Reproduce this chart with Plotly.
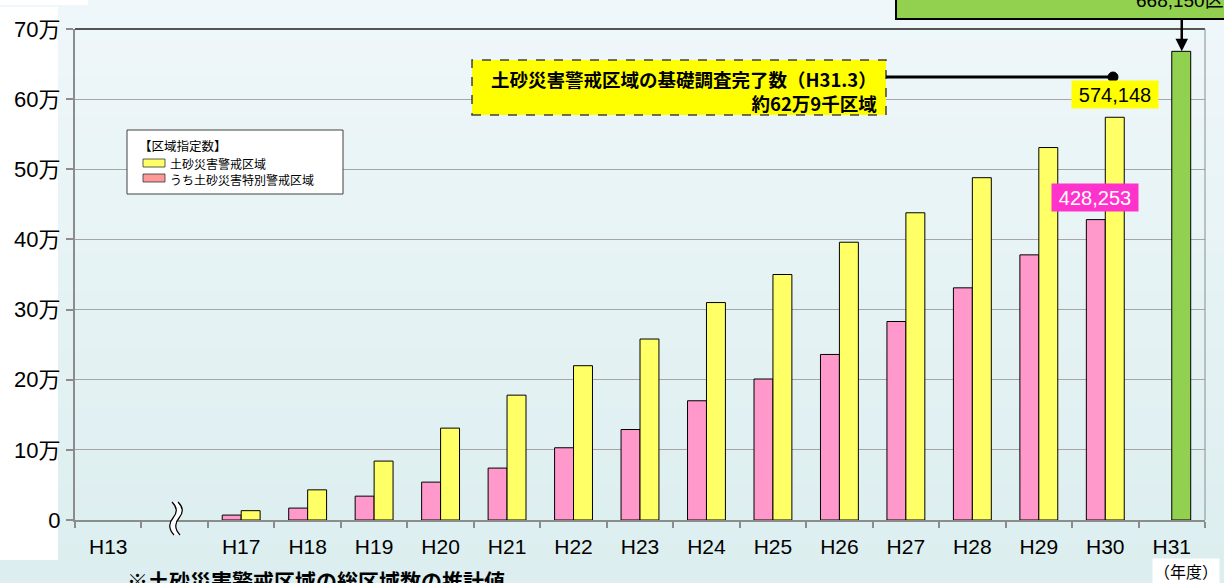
import plotly.graph_objects as go

# ---------------- data ----------------
categories = ["H13", " ", "H17", "H18", "H19", "H20", "H21", "H22", "H23", "H24",
              "H25", "H26", "H27", "H28", "H29", "H30", "H31"]
special_zones = [None, None, 7000, 17000, 34000, 54000, 74000, 103000, 129000, 170000,
                 201000, 236000, 283000, 331000, 378000, 428253, None]
warning_zones = [None, None, 13300, 43000, 84000, 131000, 178000, 220000, 258000, 310000,
                 350000, 396000, 438000, 488000, 531000, 574148, 668150]
y_tickvals = [0, 100000, 200000, 300000, 400000, 500000, 600000, 700000]
y_ticktext = ["0", "10万", "20万", "30万", "40万", "50万", "60万", "70万"]

label_warning = "574,148"
label_special = "428,253"
label_total = "668,150区域"
legend_title = "【区域指定数】"
legend_names = ["土砂災害警戒区域", "うち土砂災害特別警戒区域"]
callout_line1 = "土砂災害警戒区域の基礎調査完了数（H31.3）"
callout_line2 = "約62万9千区域"
footnote = "※土砂災害警戒区域の総区域数の推計値"
x_unit = "（年度）"
y_unit = "（区域数）"

# ---------------- geometry helpers ----------------
W, H = 1224, 583
L, R, T, B = 75, 1205, 29, 520


def px(x):
    return (x - L) / (R - L)


def py(y):
    return (B - y) / (B - T)


YELLOW = "#FFFF66"
PINK = "#FF99CC"
GREEN = "#92D050"
JP = "Noto Sans CJK JP, Liberation Sans"
LAT = "Liberation Sans, Noto Sans CJK JP"

warning_colors = [YELLOW] * (len(categories) - 1) + [GREEN]

fig = go.Figure()
fig.add_trace(go.Bar(x=categories, y=special_zones, name=legend_names[1],
                     marker=dict(color=PINK, line=dict(color="black", width=1))))
fig.add_trace(go.Bar(x=categories, y=warning_zones, name=legend_names[0],
                     marker=dict(color=warning_colors, line=dict(color="black", width=1))))

shapes = []
# background gradient strips
n = 30
c0 = (239, 247, 250)
c1 = (220, 238, 239)
for i in range(n):
    t = i / (n - 1)
    col = "rgb(%d,%d,%d)" % tuple(round(c0[k] + (c1[k] - c0[k]) * t) for k in range(3))
    y0 = H * i / n
    y1 = H * (i + 1) / n + 1
    shapes.append(dict(type="rect", xref="paper", yref="paper", layer="below",
                       x0=px(0), x1=px(W), y0=py(y0), y1=py(y1),
                       fillcolor=col, line=dict(width=0)))
# white left strip and top-left box
shapes.append(dict(type="rect", xref="paper", yref="paper", layer="below",
                   x0=px(0), x1=px(58), y0=py(7), y1=py(560),
                   fillcolor="white", line=dict(width=0)))
shapes.append(dict(type="rect", xref="paper", yref="paper", layer="below",
                   x0=px(0), x1=px(88), y0=py(-5), y1=py(5),
                   fillcolor="white", line=dict(width=0)))
# top and right borders
shapes.append(dict(type="line", xref="paper", yref="paper", x0=0, x1=1, y0=1, y1=1,
                   line=dict(color="#555555", width=2)))
shapes.append(dict(type="line", xref="paper", yref="paper", x0=1, x1=1, y0=0, y1=1,
                   line=dict(color="#8C8C8C", width=1)))


def pth(points_cmd):
    out = []
    for tok in points_cmd:
        if isinstance(tok, str):
            out.append(tok)
        else:
            out.append("%f,%f" % (px(tok[0]), py(tok[1])))
    return " ".join(out)


# axis break symbol
w1 = ["M", (172, 502), "Q", (180, 510), (173, 518), "Q", (166, 526), (174, 535)]
w2 = ["M", (178, 502), "Q", (186, 510), (179, 518), "Q", (172, 526), (180, 535)]
fill = ["M", (172, 502), "Q", (180, 510), (173, 518), "Q", (166, 526), (174, 535),
        "L", (180, 535), "Q", (172, 526), (179, 518), "Q", (186, 510), (178, 502), "Z"]
shapes.append(dict(type="path", xref="paper", yref="paper", path=pth(fill),
                   fillcolor="white", line=dict(width=0)))
shapes.append(dict(type="path", xref="paper", yref="paper", path=pth(w1),
                   line=dict(color="black", width=1.2)))
shapes.append(dict(type="path", xref="paper", yref="paper", path=pth(w2),
                   line=dict(color="black", width=1.2)))

# legend box
shapes.append(dict(type="rect", xref="paper", yref="paper", x0=px(127), x1=px(343),
                   y0=py(194), y1=py(130), fillcolor="white",
                   line=dict(color="#404040", width=1)))
shapes.append(dict(type="rect", xref="paper", yref="paper", x0=px(143), x1=px(165),
                   y0=py(167), y1=py(159), fillcolor=YELLOW,
                   line=dict(color="#333333", width=0.8)))
shapes.append(dict(type="rect", xref="paper", yref="paper", x0=px(143), x1=px(165),
                   y0=py(182), y1=py(174), fillcolor="#FF9999",
                   line=dict(color="#333333", width=0.8)))

# callout box with dashed border
shapes.append(dict(type="rect", xref="paper", yref="paper", x0=px(472), x1=px(886),
                   y0=py(115), y1=py(60), fillcolor="#FFFF00",
                   line=dict(color="#404040", width=1.5, dash="dash")))
shapes.append(dict(type="line", xref="paper", yref="paper", x0=px(886), x1=px(1113),
                   y0=py(77), y1=py(77), line=dict(color="black", width=3)))
shapes.append(dict(type="circle", xref="paper", yref="paper", x0=px(1108), x1=px(1118),
                   y0=py(82), y1=py(72), fillcolor="black", line=dict(color="black", width=1)))

# green total box at top right
shapes.append(dict(type="rect", xref="paper", yref="paper", x0=px(896), x1=px(1260),
                   y0=py(19), y1=py(-30), fillcolor=GREEN,
                   line=dict(color="black", width=2)))

annotations = []
# legend texts
annotations.append(dict(xref="paper", yref="paper", x=px(137), y=py(145), xanchor="left",
                        yanchor="middle", text=legend_title, showarrow=False,
                        font=dict(family=JP, size=12.5, color="black")))
annotations.append(dict(xref="paper", yref="paper", x=px(168), y=py(171), xanchor="left",
                        yanchor="middle", align="left",
                        text=legend_names[0] + "<br>" + legend_names[1], showarrow=False,
                        font=dict(family=JP, size=12, color="black")))
# callout text (both lines right-aligned)
annotations.append(dict(xref="paper", yref="paper", x=px(879), y=py(90.5), xanchor="right",
                        yanchor="middle", align="right",
                        text="<b>" + callout_line1 + "<br>" + callout_line2 + "</b>",
                        showarrow=False,
                        font=dict(family=JP, size=18.5, color="black")))
# value labels
annotations.append(dict(x=categories[15], y=warning_zones[15], xshift=10, yshift=8,
                        yanchor="bottom", text=label_warning, showarrow=False,
                        bgcolor="#FFFF00", width=84, height=25,
                        font=dict(family=LAT, size=20, color="black")))
annotations.append(dict(x=categories[15], y=special_zones[15], xshift=-10, yshift=8,
                        yanchor="bottom", text=label_special, showarrow=False,
                        bgcolor="#FF33CC", width=84, height=25,
                        font=dict(family=LAT, size=20, color="white")))
# arrow from total box to H31 bar
annotations.append(dict(x=categories[16], y=warning_zones[16], xshift=10, text="",
                        showarrow=True, ax=0, ay=-33, arrowhead=2, arrowsize=1,
                        arrowwidth=2.5, arrowcolor="black", standoff=0))
# total label (partly cut at top edge)
annotations.append(dict(xref="paper", yref="paper", x=px(1134), y=py(13), xanchor="left",
                        yanchor="bottom", text=label_total, showarrow=False,
                        font=dict(family=LAT, size=19, color="black")))
# units
annotations.append(dict(xref="paper", yref="paper", x=px(1186), y=py(571), xanchor="center",
                        yanchor="middle", text=x_unit, showarrow=False, bgcolor="white",
                        width=64, height=22, font=dict(family=JP, size=16, color="black")))
annotations.append(dict(xref="paper", yref="paper", x=px(4), y=py(4), xanchor="left",
                        yanchor="bottom", text=y_unit, showarrow=False,
                        font=dict(family=JP, size=16, color="black")))
# footnote (partly cut at bottom edge)
annotations.append(dict(xref="paper", yref="paper", x=px(125), y=py(563), xanchor="left",
                        yanchor="top", text="<b>" + footnote + "</b>", showarrow=False,
                        font=dict(family=JP, size=21, color="black")))

fig.update_layout(
    width=W, height=H,
    margin=dict(l=L, r=W - R, t=T, b=H - B, pad=0),
    paper_bgcolor="#E6F2F4",
    plot_bgcolor="rgba(0,0,0,0)",
    barmode="group", bargap=0.43, bargroupgap=0,
    showlegend=False,
    font=dict(family=LAT, color="black"),
    shapes=shapes,
    annotations=annotations,
    xaxis=dict(type="category", categoryorder="array", categoryarray=categories,
               range=[-0.5, len(categories) - 0.5], tickson="boundaries",
               ticks="outside", ticklen=6, tickwidth=1.5, tickcolor="#8C8C8C",
               showline=True, linecolor="#8C8C8C", linewidth=2, showgrid=False,
               ticklabelstandoff=7,
               tickfont=dict(family=LAT, size=21, color="black")),
    yaxis=dict(range=[0, 700000], tickvals=y_tickvals, ticktext=y_ticktext,
               showgrid=True, gridcolor="#A6A6A6", gridwidth=1, zeroline=False,
               showline=True, linecolor="#8C8C8C", linewidth=2,
               ticks="outside", ticklen=7, tickwidth=1.5, tickcolor="#8C8C8C",
               ticklabelstandoff=1,
               tickfont=dict(family=LAT, size=22, color="black")),
)

fig.write_html("out.html")
